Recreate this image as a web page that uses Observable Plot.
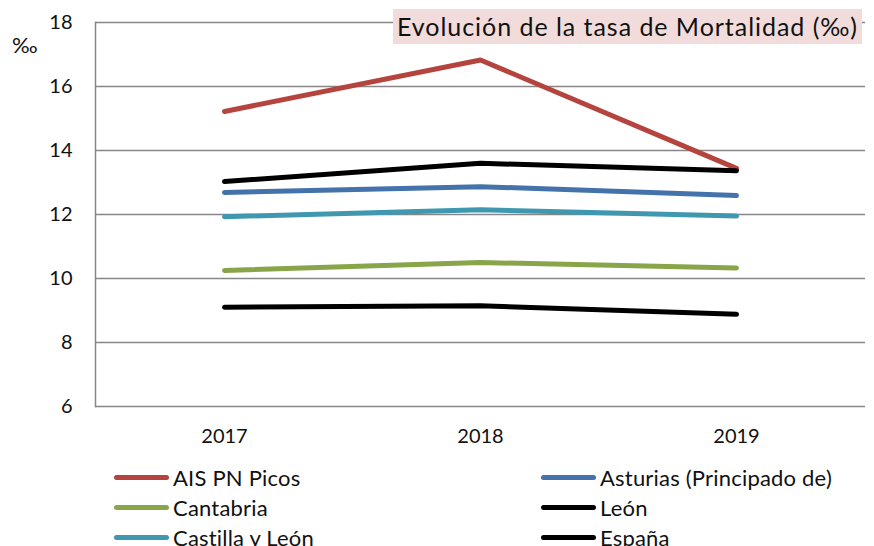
<!DOCTYPE html>
<html>
<head>
<meta charset="utf-8">
<script src="https://cdn.jsdelivr.net/npm/d3@7"></script>
<script src="https://cdn.jsdelivr.net/npm/@observablehq/plot@0.6"></script>
<style>
  html, body { margin: 0; padding: 0; background: #fff; }
  #wrap { position: relative; width: 874px; height: 546px; overflow: hidden; font-family: Lato, "Liberation Sans", sans-serif; }
  #title { position: absolute; left: 393px; top: 9px; width: 469px; height: 35px; background: #f2dcdb;
           font-size: 25px; line-height: 35px; color: #111; white-space: nowrap; padding-left: 4px; box-sizing: border-box; overflow: hidden; }
  #title span { display: inline-block; }
  #unit { position: absolute; left: 12px; top: 31px; font-size: 22px; color: #111; }
  .leg { position: absolute; font-size: 22px; letter-spacing: 0.2px; color: #111; display: flex; align-items: center; white-space: nowrap; height: 26px; }
  .leg span.sw { display: inline-block; width: 55px; height: 5px; border-radius: 3px; margin-right: 4px; }
</style>
</head>
<body>
<div id="wrap"></div>
<script>
const years = ["2017", "2018", "2019"];
const seriesNames = ["AIS PN Picos", "Asturias (Principado de)", "Cantabria", "León", "Castilla y León", "España"];
const ais = [15.22, 16.83, 13.44];
const asturias = [12.69, 12.87, 12.59];
const cantabria = [10.25, 10.5, 10.33];
const leon = [13.03, 13.6, 13.37];
const castilla = [11.93, 12.15, 11.95];
const espana = [9.1, 9.15, 8.88];
const seriesColors = ["#b5443f", "#4472aa", "#88a54a", "#000000", "#4098b0", "#000000"];
const yTicks = [6, 8, 10, 12, 14, 16, 18];
const titleText = "Evolución de la tasa de Mortalidad (‰)";

const allValues = [ais, asturias, cantabria, leon, castilla, espana];
const data = [];
seriesNames.forEach((name, i) => {
  years.forEach((yr, j) => data.push({series: name, year: yr, value: allValues[i][j]}));
});

const plot = Plot.plot({
  width: 874,
  height: 460,
  marginTop: 22,
  marginBottom: 54,
  marginLeft: 95,
  marginRight: 9,
  style: {fontFamily: "Lato, 'Liberation Sans', sans-serif", fontSize: "20px", color: "#111", background: "#fff"},
  x: {type: "point", domain: years, padding: 0.5, label: null},
  y: {domain: [6, 18], label: null},
  color: {domain: seriesNames, range: seriesColors},
  marks: [
    Plot.gridY(yTicks, {stroke: "#868686", strokeOpacity: 1, strokeWidth: 1.5}),
    Plot.frame({anchor: "left", stroke: "#868686", strokeWidth: 1.5}),
    Plot.axisY(yTicks, {tickSize: 0, tickPadding: 23, fontSize: 20, label: null}),
    Plot.axisX(years, {tickSize: 0, tickPadding: 22, fontSize: 20, label: null}),
    Plot.line(data, {x: "year", y: "value", z: "series", stroke: "series", strokeWidth: 5,
                     strokeLinecap: "round", strokeLinejoin: "round"})
  ]
});

const wrap = document.getElementById("wrap");
wrap.appendChild(plot);

const title = document.createElement("div");
title.id = "title";
const tspan = document.createElement("span");
tspan.textContent = titleText;
title.appendChild(tspan);
wrap.appendChild(title);
// fit title text to the reference width (~462px)
const natural = tspan.getBoundingClientRect().width;
const target = 460;
const extra = (target - natural) / (titleText.length - 1);
tspan.style.letterSpacing = Math.max(-1, Math.min(2, extra)) + "px";

const unit = document.createElement("div");
unit.id = "unit";
unit.textContent = "‰";
wrap.appendChild(unit);

const legPos = [[114, 464], [541, 464], [114, 494], [541, 494], [114, 524], [541, 524]];
seriesNames.forEach((name, i) => {
  const d = document.createElement("div");
  d.className = "leg";
  d.style.left = legPos[i][0] + "px";
  d.style.top = legPos[i][1] + "px";
  const sw = document.createElement("span");
  sw.className = "sw";
  sw.style.background = seriesColors[i];
  d.appendChild(sw);
  d.appendChild(document.createTextNode(name));
  wrap.appendChild(d);
});
</script>
</body>
</html>
